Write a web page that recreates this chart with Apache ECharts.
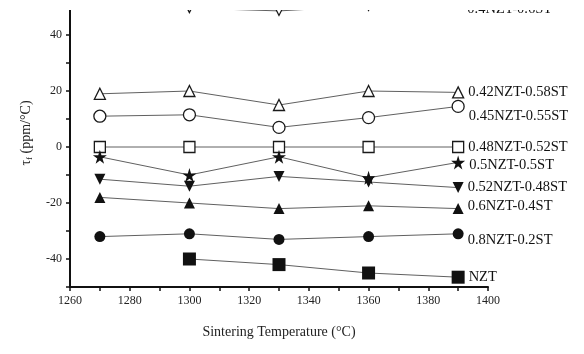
<!DOCTYPE html>
<html>
<head>
<meta charset="utf-8">
<script src="https://cdn.jsdelivr.net/npm/echarts@6/dist/echarts.min.js"></script>
<style>html,body{margin:0;padding:0;background:#fff}#c{width:584px;height:354px}</style>
</head>
<body>
<div id="c"></div>
<script>
const temps = [1270, 1300, 1330, 1360, 1390];
const xTickLabels = [1260, 1280, 1300, 1320, 1340, 1360, 1380, 1400];
const yTickLabels = [-40, -20, 0, 20, 40];

const names = ['0.4NZT-0.6ST', '0.42NZT-0.58ST', '0.45NZT-0.55ST', '0.48NZT-0.52ST', '0.5NZT-0.5ST', '0.52NZT-0.48ST', '0.6NZT-0.4ST', '0.8NZT-0.2ST', 'NZT'];
const s040 = [53, 49.6, 48.6, 50.4, 52];
const s042 = [19, 20, 15, 20, 19.5];
const s045 = [11, 11.5, 7, 10.5, 14.5];
const s048 = [0, 0, 0, 0, 0];
const s050 = [-3.5, -10, -3.5, -11, -5.5];
const s052 = [-11.5, -14, -10.5, -12.5, -14.5];
const s060 = [-18, -20, -22, -21, -22];
const s080 = [-32, -31, -33, -32, -31];
const sNZT = [null, -40, -42, -45, -46.5];
const values = [s040, s042, s045, s048, s050, s052, s060, s080, sNZT];

const star = 'path://M50,0 L61,35 L98,35 L68,57 L79,91 L50,70 L21,91 L32,57 L2,35 L39,35 Z';
const styles = [
  {symbol: 'triangle', rotate: 180, open: true, size: 9, dy: 8},
  {symbol: 'triangle', rotate: 0, open: true, size: 11, dy: 0},
  {symbol: 'circle', rotate: 0, open: true, size: 12, dy: 10},
  {symbol: 'rect', rotate: 0, open: true, size: 11, dy: 0},
  {symbol: star, rotate: 0, open: false, size: 14, dy: 3},
  {symbol: 'triangle', rotate: 180, open: false, size: 11, dy: 0},
  {symbol: 'triangle', rotate: 0, open: false, size: 11, dy: -2},
  {symbol: 'circle', rotate: 0, open: false, size: 11, dy: 6},
  {symbol: 'rect', rotate: 0, open: false, size: 13, dy: 0}
];

const FONT = 'Liberation Serif';
const series = names.map((nm, i) => {
  const st = styles[i];
  const vals = values[i];
  const data = temps.map((t, j) => {
    if (vals[j] === null) return null;
    const item = {value: [t, vals[j]]};
    if (j === temps.length - 1) {
      item.label = {show: true, position: 'right', distance: 4, offset: [0, st.dy], formatter: nm,
        fontFamily: FONT, fontSize: 14.5, color: '#111'};
    }
    return item;
  }).filter(d => d !== null);
  return {
    name: nm, type: 'line', data: data,
    symbol: st.symbol, symbolSize: st.size, symbolRotate: st.rotate,
    showAllSymbol: true, clip: false,
    lineStyle: {color: '#606060', width: 1},
    itemStyle: st.open ? {color: '#fff', borderColor: '#1a1a1a', borderWidth: 1.3} : {color: '#111', borderWidth: 0},
    emphasis: {disabled: true},
    animation: false
  };
});

const chart = echarts.init(document.getElementById('c'), null, {renderer: 'canvas'});
chart.setOption({
  backgroundColor: '#fff',
  animation: false,
  grid: {left: 70, right: 96, top: -21, bottom: 67, containLabel: false, outerBoundsMode: 'none'},
  xAxis: {
    type: 'value', min: 1260, max: 1400, interval: 10,
    name: 'Sintering Temperature (°C)', nameLocation: 'middle', nameGap: 38,
    nameTextStyle: {fontFamily: FONT, fontSize: 14, color: '#222'},
    axisLine: {show: true, onZero: false, lineStyle: {color: '#111', width: 2}},
    axisTick: {show: true, length: 4, lineStyle: {color: '#111', width: 1.5}},
    axisLabel: {fontFamily: FONT, fontSize: 12, color: '#222', margin: 8,
      formatter: v => xTickLabels.indexOf(v) >= 0 ? String(v) : ''},
    splitLine: {show: false}
  },
  yAxis: {
    type: 'value', min: -50, max: 60, interval: 10,
    name: 'τ{s|f} (ppm/°C)', nameLocation: 'middle', nameGap: 36, nameRotate: 90,
    nameTextStyle: {fontFamily: FONT, fontSize: 14, color: '#222',
      rich: {s: {fontFamily: FONT, fontSize: 9, color: '#222', padding: [7, 0, 0, 0]}}},
    axisLine: {show: true, onZero: false, lineStyle: {color: '#111', width: 2}},
    axisTick: {show: true, length: 4, lineStyle: {color: '#111', width: 1.5}},
    axisLabel: {fontFamily: FONT, fontSize: 12, color: '#222', margin: 8,
      formatter: v => yTickLabels.indexOf(v) >= 0 ? String(v) : ''},
    splitLine: {show: false}
  },
  graphic: [{type: 'rect', shape: {x: 0, y: 0, width: 584, height: 10}, style: {fill: '#fff'}, z: 100}],
  series: series
});
</script>
</body>
</html>
